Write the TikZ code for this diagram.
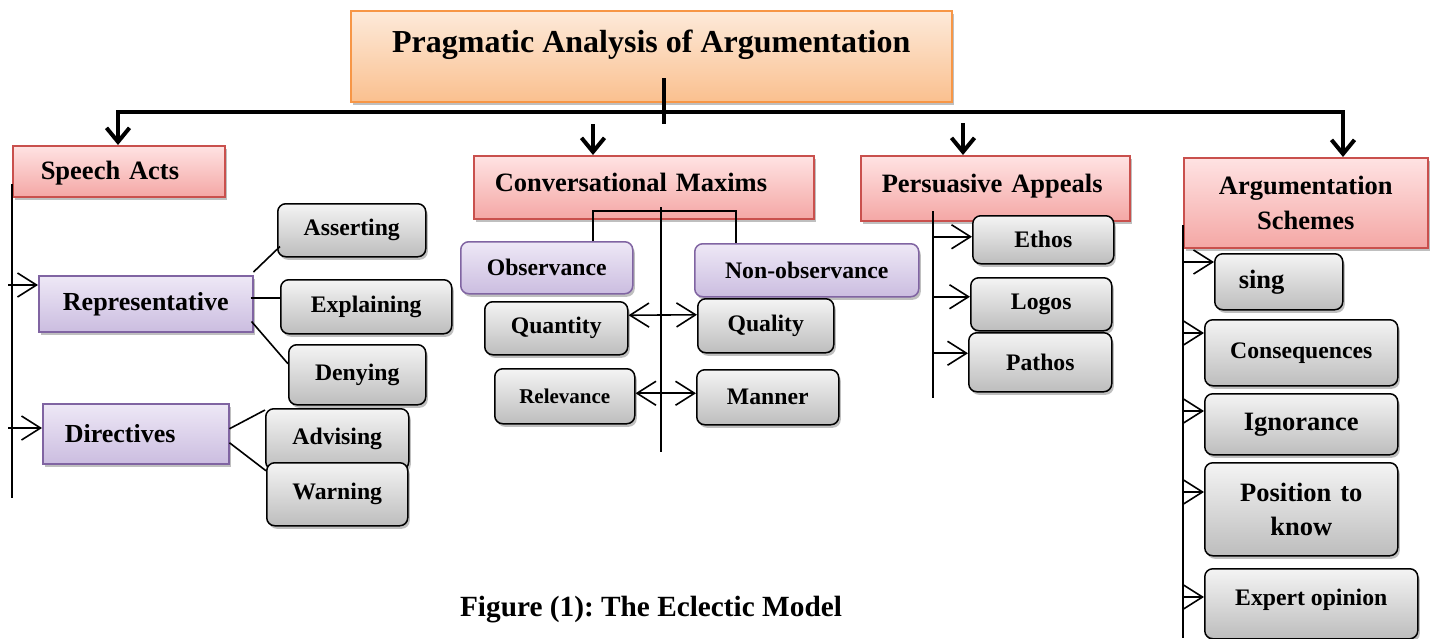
\documentclass[tikz,border=0pt]{standalone}
\usepackage{fontspec}
\setmainfont{Liberation Serif}
\frenchspacing
\usetikzlibrary{arrows.meta,shadows,calc}

\definecolor{orangetop}{HTML}{FDEADA}
\definecolor{orangebot}{HTML}{FAC08F}
\definecolor{orangeedge}{HTML}{F79646}
\definecolor{redtop}{HTML}{FFE3E3}
\definecolor{redbot}{HTML}{F4A7A5}
\definecolor{rededge}{HTML}{C9504D}
\definecolor{purpletop}{HTML}{EEE8F6}
\definecolor{purplebot}{HTML}{CBBDE0}
\definecolor{purpleedge}{HTML}{8064A2}
\definecolor{graytop}{HTML}{F4F4F4}
\definecolor{graybot}{HTML}{BDBDBD}

\tikzset{
  box/.style={draw, line width=1.5pt, inner sep=0pt, align=center},
  shad/.style={drop shadow={shadow xshift=2pt, shadow yshift=-3pt, opacity=0.25, fill=black}},
  rootbox/.style={box, shad, draw=orangeedge, top color=orangetop, bottom color=orangebot},
  headbox/.style={box, shad, draw=rededge, top color=redtop, bottom color=redbot},
  subbox/.style={box, shad, draw=purpleedge, top color=purpletop, bottom color=purplebot},
  leafbox/.style={box, shad, draw=black, rounded corners=8pt, top color=graytop, bottom color=graybot},
  fhuge/.style={font=\bfseries\fontsize{32pt}{38pt}\selectfont},
  fbig/.style={font=\bfseries\fontsize{26.5pt}{35pt}\selectfont},
  fmid/.style={font=\bfseries\fontsize{23.7pt}{28pt}\selectfont},
  fsmall/.style={font=\bfseries\fontsize{21pt}{25pt}\selectfont},
  fcap/.style={font=\bfseries\fontsize{29.3pt}{34pt}\selectfont},
  bus/.style={line width=4pt, line join=miter},
  bustip/.style={line width=4pt, -{Straight Barb[length=14pt,width=23pt]}},
  link/.style={line width=1.6pt},
  vtip/.tip={Straight Barb[length=19pt,width=24pt,line join=miter]},
  arr/.style={link, -vtip},
  dblarr/.style={link, vtip-vtip},
}

\begin{document}
\begin{tikzpicture}[x=1pt, y=-1pt]
\useasboundingbox (0,0) rectangle (1431,638);

% root
\node[rootbox, fhuge, anchor=north west, minimum width=601pt, text height=41.5pt, text depth=49.5pt] (root) at (350,10) {Pragmatic Analysis of Argumentation};

% four branches
\node[headbox, fbig, anchor=north west, inner xsep=28pt, text width=156pt, align=left, text height=34pt, text depth=17pt] (sa) at (12,145) {Speech Acts};
\node[headbox, fbig, anchor=north west, inner xsep=21pt, text width=298pt, align=left, text height=36pt, text depth=27pt] (cm) at (473,155) {Conversational Maxims};
\node[headbox, fbig, anchor=north west, inner xsep=21pt, text width=227pt, align=left, text height=37pt, text depth=28pt] (pa) at (860,155) {Persuasive Appeals};
\node[headbox, fbig, anchor=north west, text width=244pt, minimum height=90pt] (as) at (1183,157) {Argumentation\\Schemes};

% speech acts
\node[subbox, font=\bfseries\fontsize{26pt}{30pt}\selectfont, anchor=north west, minimum width=214pt, minimum height=56pt] (rep) at (38,275) {Representative};
\node[subbox, font=\bfseries\fontsize{26pt}{30pt}\selectfont, anchor=north west, inner xsep=22pt, text width=142pt, align=left, minimum height=60pt] (dir) at (42,403) {Directives};
\node[leafbox, fmid, anchor=north west, minimum width=148pt, minimum height=53pt] (asr) at (277,203) {Asserting};
\node[leafbox, fmid, anchor=north west, minimum width=171pt, minimum height=54pt] (exp) at (280,279) {Explaining};
\node[leafbox, fmid, anchor=north west, minimum width=137pt, minimum height=60pt] (den) at (288,344) {Denying};
\node[leafbox, fmid, anchor=north west, minimum width=143pt, minimum height=61pt] (adv) at (265,408) {Advising};
\node[leafbox, fmid, anchor=north west, minimum width=141pt, minimum height=63pt] (war) at (266,462) {Warning};

% conversational maxims
\node[subbox, fmid, rounded corners=8pt, anchor=north west, minimum width=172pt, minimum height=52pt] (obs) at (460,241) {Observance};
\node[subbox, fmid, rounded corners=8pt, anchor=north west, minimum width=224pt, minimum height=53pt] (non) at (694,243) {Non-observance};
\node[leafbox, fmid, anchor=north west, minimum width=143pt, minimum height=53pt] (qty) at (484,301) {Quantity};
\node[leafbox, fmid, anchor=north west, minimum width=136pt, minimum height=54pt] (qly) at (697,298) {Quality};
\node[leafbox, fsmall, anchor=north west, minimum width=140pt, minimum height=55pt] (rel) at (494,368) {Relevance};
\node[leafbox, fmid, anchor=north west, minimum width=142pt, minimum height=55pt] (man) at (696,369) {Manner};

% persuasive appeals
\node[leafbox, fmid, anchor=north west, minimum width=141pt, minimum height=48pt] (eth) at (972,215) {Ethos};
\node[leafbox, fmid, anchor=north west, minimum width=141pt, minimum height=53pt] (log) at (970,277) {Logos};
\node[leafbox, fmid, anchor=north west, minimum width=143pt, minimum height=59pt] (pat) at (968,332) {Pathos};

% argumentation schemes
\node[leafbox, fbig, anchor=north west, inner xsep=24pt, text width=80pt, align=left, minimum height=56pt] (sing) at (1214,253) {sing};
\node[leafbox, fmid, anchor=north west, minimum width=193pt, minimum height=66pt] (con) at (1204,319) {Consequences};
\node[leafbox, fbig, anchor=north west, minimum width=193pt, minimum height=61pt] (ign) at (1204,393) {Ignorance};
\node[leafbox, font=\bfseries\fontsize{26.5pt}{34pt}\selectfont, anchor=north west, text width=193pt, minimum height=93pt] (pos) at (1204,462) {Position to\\know};
\node[leafbox, fmid, anchor=north west, minimum width=213pt, text height=37pt, text depth=33pt] (expo) at (1204,568) {Expert opinion};

% caption
\node[fcap] (cap) at (651,610) {Figure (1): The Eclectic Model};

% trunk and bus
\coordinate (stemTop) at (664,78);
\coordinate (stemBot) at (664,124);
\coordinate (busL) at (118,112);
\coordinate (busR) at (1343,112);
\coordinate (cmIn) at (593,124);
\coordinate (paIn) at (963,123);
\draw[bus] (stemTop) -- (stemBot);
\draw[bus, {Straight Barb[length=14pt,width=23pt]}-{Straight Barb[length=14pt,width=23pt]}]
  (sa.north -| busL) -- (busL) -- (busR) -- (as.north -| busR);
\draw[bustip] (cmIn) -- (cm.north -| cmIn);
\draw[bustip] (paIn) -- (pa.north -| paIn);

% speech acts links
\coordinate (saTop) at (12,184);
\coordinate (saBot) at (12,498);
\draw[link] (saTop) -- (saBot);
\coordinate (r1) at ($(rep.north west)+(0,10)$);
\coordinate (d1) at ($(dir.north west)+(0,25)$);
\draw[arr] ($(saTop |- r1)+(-4,0)$) -- (r1);
\draw[arr] ($(saTop |- d1)+(-4,0)$) -- (d1);
\draw[link] ($(rep.north east)+(0,-3)$) -- ($(asr.south west)+(3,-11)$);
\draw[link] ($(rep.east)+(-3,-6)$) -- ($(exp.west)+(0,-9)$);
\draw[link] ($(rep.south east)+(-2,-11)$) -- ($(den.west)+(0,-11)$);
\draw[link] ($(dir.east)+(0,-5)$) -- ($(adv.north west)+(0,2)$);
\draw[link] ($(dir.east)+(0,9)$) -- ($(war.west)+(0,-23.5)$);

% conversational maxims links
\coordinate (cmTop) at (661,207);
\coordinate (cmBot) at (661,452);
\coordinate (obsL) at (593,211);
\coordinate (nonR) at (736,211);
\draw[link] (cmTop) -- (cmBot);
\draw[link] (obs.north -| obsL) -- (obsL) -- (nonR) -- (non.north -| nonR);
\draw[dblarr] ($(qty.east)+(0,-13)$) -- ($(qly.west)+(0,-11)$);
\draw[dblarr] ($(rel.east)+(0,-3)$) -- ($(man.west)+(0,-4)$);

% persuasive appeals links
\coordinate (paTop) at (933,211);
\coordinate (paBot) at (933,398);
\draw[link] (paTop) -- (paBot);
\coordinate (e1) at ($(eth.west)+(0,-3)$);
\coordinate (l1) at ($(log.west)+(0,-7.5)$);
\coordinate (p1) at ($(pat.west)+(0,-9)$);
\draw[arr] (paTop |- e1) -- (e1);
\draw[arr] (paTop |- l1) -- (l1);
\draw[arr] (paTop |- p1) -- (p1);

% argumentation schemes links
\coordinate (asTop) at (1183,225);
\coordinate (asBot) at (1183,638);
\draw[link] (asTop) -- (asBot);
\coordinate (s1) at ($(sing.north west)+(0,9)$);
\coordinate (c1) at ($(con.north west)+(0,14)$);
\coordinate (i1) at ($(ign.north west)+(0,18)$);
\coordinate (k1) at ($(pos.north west)+(0,30)$);
\coordinate (x1) at ($(expo.north west)+(0,29)$);
\draw[arr] (asTop |- s1) -- (s1);
\draw[arr] (asTop |- c1) -- (c1);
\draw[arr] (asTop |- i1) -- (i1);
\draw[arr] (asTop |- k1) -- (k1);
\draw[arr] (asTop |- x1) -- (x1);
\end{tikzpicture}
\end{document}
